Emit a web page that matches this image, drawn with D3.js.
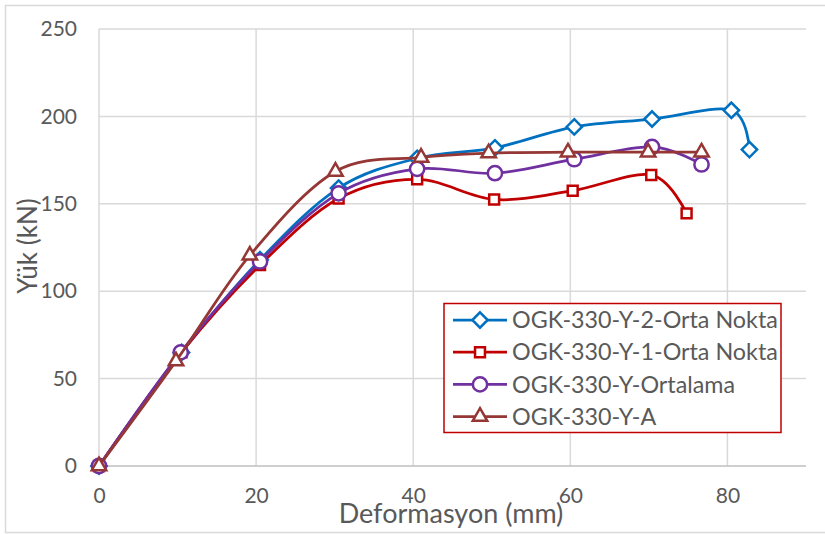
<!DOCTYPE html>
<html>
<head>
<meta charset="utf-8">
<script src="https://cdn.jsdelivr.net/npm/d3@7"></script>
<style>
  body { margin: 0; background: #fff; }
  svg { display: block; font-family: Lato, "Open Sans", sans-serif; }
</style>
</head>
<body>
<div id="chart"></div>
<script>
// values
var seriesNames = ["OGK-330-Y-2-Orta Nokta", "OGK-330-Y-1-Orta Nokta", "OGK-330-Y-Ortalama", "OGK-330-Y-A"];

var blueX = [0, 10.5, 20.5, 30.5, 40.5, 50.4, 60.5, 70.4, 80.5, 82.8];
var blueY = [0, 65, 118, 159, 176, 182, 194, 198.5, 203.5, 181];

var redX = [0, 10.5, 20.5, 30.5, 40.5, 50.3, 60.3, 70.3, 74.8];
var redY = [0, 65, 115, 153, 164, 152.5, 157.5, 166.5, 144.5];

var purpleX = [0, 10.4, 20.5, 30.5, 40.5, 50.4, 60.5, 70.4, 76.7];
var purpleY = [0, 65, 117, 156, 170, 167.5, 175.5, 182.5, 172.5];

var brownX = [0, 9.8, 19.2, 30.1, 41, 49.6, 59.7, 69.9, 76.7];
var brownY = [0, 60, 120.5, 168.5, 176.5, 179, 179.5, 179.5, 179.5];

var xTicks = [0, 20, 40, 60, 80];
var yTicks = [0, 50, 100, 150, 200, 250];

var W = 825, H = 534;
var margin = {top: 29, right: 19, bottom: 68, left: 99};
var width = 806 - margin.left;
var height = 466 - margin.top;

var colours = ["#0070C0", "#C00000", "#7030A0", "#953735"];
var shapes = [d3.symbolDiamond2, d3.symbolSquare2, d3.symbolCircle, d3.symbolTriangle2];
var sizes = [150, 125, 160, 150];

var svg = d3.select("#chart")
    .append("svg")
        .attr("width", W)
        .attr("height", H);

// outer chart border
svg.append("rect")
    .attr("x", 5.5).attr("y", 5.5)
    .attr("width", W + 10).attr("height", 527)
    .attr("fill", "none")
    .attr("stroke", "#d9d9d9")
    .attr("stroke-width", 1.5);

var g = svg.append("g")
    .attr("transform", "translate(" + margin.left + "," + margin.top + ")");

var x = d3.scaleLinear().domain([0, 90]).range([0, width]);
var y = d3.scaleLinear().domain([0, 250]).range([height, 0]);

// grid
g.selectAll("line.vgrid")
    .data(xTicks)
    .enter().append("line")
        .attr("class", "vgrid")
        .attr("x1", function(d) { return x(d); })
        .attr("x2", function(d) { return x(d); })
        .attr("y1", 0).attr("y2", height)
        .attr("stroke", "#d9d9d9")
        .attr("stroke-width", 1.5);

g.selectAll("line.hgrid")
    .data(yTicks)
    .enter().append("line")
        .attr("class", "hgrid")
        .attr("x1", 0).attr("x2", width)
        .attr("y1", function(d) { return y(d); })
        .attr("y2", function(d) { return y(d); })
        .attr("stroke", function(d) { return d === 0 ? "#bfbfbf" : "#d9d9d9"; })
        .attr("stroke-width", 1.5);

// axes (labels only, Excel style)
var xAxis = g.append("g")
    .attr("transform", "translate(0," + height + ")")
    .call(d3.axisBottom(x).tickValues(xTicks).tickSize(0).tickPadding(22));
var yAxis = g.append("g")
    .call(d3.axisLeft(y).tickValues(yTicks).tickSize(0).tickPadding(22));
[xAxis, yAxis].forEach(function(a) {
    a.select(".domain").remove();
    a.selectAll("text")
        .attr("fill", "#595959")
        .style("font-size", "21px")
        .style("font-family", "Lato, sans-serif");
});

// axis titles
svg.append("text")
    .attr("x", 451).attr("y", 523)
    .attr("text-anchor", "middle")
    .attr("fill", "#595959")
    .style("font-size", "27px")
    .text("Deformasyon (mm)");

svg.append("text")
    .attr("transform", "translate(37,246) rotate(-90)")
    .attr("text-anchor", "middle")
    .attr("fill", "#595959")
    .style("font-size", "26px")
    .text("Yük (kN)");

// series
var allX = [blueX, redX, purpleX, brownX];
var allY = [blueY, redY, purpleY, brownY];
var series = seriesNames.map(function(name, i) {
    return {
        name: name,
        points: allX[i].map(function(v, j) { return {x: v, y: allY[i][j]}; })
    };
});

var line = d3.line()
    .x(function(d) { return x(d.x); })
    .y(function(d) { return y(d.y); })
    .curve(d3.curveCardinal.tension(0));

series.forEach(function(s, i) {
    var sg = g.append("g");
    sg.append("path")
        .attr("d", line(s.points))
        .attr("fill", "none")
        .attr("stroke", colours[i])
        .attr("stroke-width", 2.75);
    sg.selectAll("path.mark")
        .data(s.points)
        .enter().append("path")
            .attr("class", "mark")
            .attr("transform", function(d) { return "translate(" + x(d.x) + "," + y(d.y) + ")"; })
            .attr("d", d3.symbol().type(shapes[i]).size(sizes[i]))
            .attr("fill", "#fff")
            .attr("stroke", colours[i])
            .attr("stroke-width", 2.5);
});

// legend
var legend = svg.append("g");
legend.append("rect")
    .attr("x", 444).attr("y", 303.5)
    .attr("width", 337).attr("height", 129)
    .attr("fill", "#fff")
    .attr("stroke", "#C00000")
    .attr("stroke-width", 1.5);

var rows = legend.selectAll("g.row")
    .data(series)
    .enter().append("g")
        .attr("class", "row")
        .attr("transform", function(d, i) { return "translate(453," + (320 + i * 32.2) + ")"; });

rows.append("line")
    .attr("x1", 0).attr("x2", 54)
    .attr("stroke", function(d, i) { return colours[i]; })
    .attr("stroke-width", 2.75);
rows.append("path")
    .attr("transform", "translate(27,0)")
    .attr("d", function(d, i) { return d3.symbol().type(shapes[i]).size(sizes[i])(); })
    .attr("fill", "#fff")
    .attr("stroke", function(d, i) { return colours[i]; })
    .attr("stroke-width", 2.5);
rows.append("text")
    .attr("x", 59)
    .attr("dy", "0.35em")
    .attr("fill", "#595959")
    .style("font-size", "23.3px")
    .text(function(d) { return d.name; });
</script>
</body>
</html>
